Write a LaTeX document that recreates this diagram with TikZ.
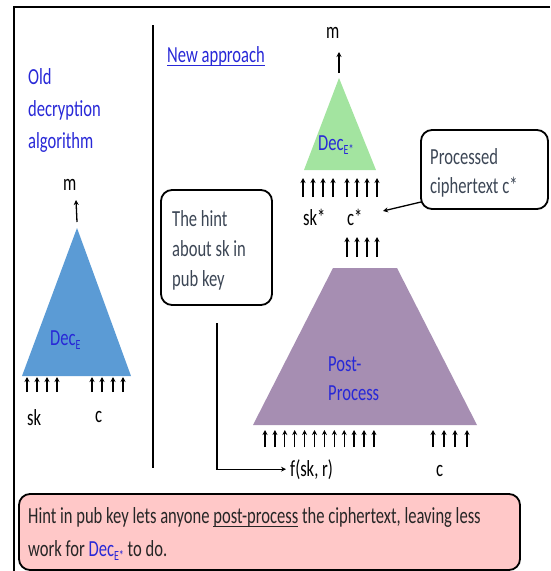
\documentclass[tikz,border=0pt]{standalone}
\usepackage{fontspec}
\setmainfont{Carlito}[FakeStretch=0.72]
\usetikzlibrary{arrows.meta}
\definecolor{txtblue}{RGB}{40,40,215}
\definecolor{decblue}{RGB}{91,155,213}
\definecolor{decgreen}{RGB}{163,228,160}
\definecolor{ppurple}{RGB}{166,142,178}
\definecolor{hintpink}{RGB}{255,200,200}
\definecolor{boxtxt}{RGB}{60,70,85}
\newcommand\myul[1]{\setbox0\hbox{#1}\rlap{\rule[-3.5pt]{\wd0}{1pt}}\box0\relax}
\newcommand\mysub[1]{\raisebox{-4pt}{\fontsize{14}{14}\selectfont #1}}
\tikzset{
  lbl/.style={anchor=base west, inner sep=0pt, font=\fontsize{23}{27}\selectfont},
  bluelbl/.style={lbl, text=txtblue},
  graylbl/.style={lbl, text=boxtxt},
  arr/.style={line width=1.3pt, -{Stealth[length=5pt,width=5pt]}},
  rbox/.style={draw=black, line width=1.8pt, rounded corners=11pt},
  frame/.style={line width=2.5pt},
}
\begin{document}
\begin{tikzpicture}[x=1pt,y=-1pt]
\useasboundingbox (0,0) rectangle (550,571);
% frame and divider
\draw[frame] (550,7) -- (14,7) -- (14,571);
\draw[line width=1.5pt] (153,25) -- (153,468);

% left part
\node[bluelbl] (old1) at (28,84) {Old};
\node[bluelbl] (old2) at (28,116) {decryption};
\node[bluelbl] (old3) at (28,148) {algorithm};
\coordinate (apexL) at (77,228);
\fill[decblue] (apexL) -- (131,376) -- (22,376) -- cycle;
\node[bluelbl] (decE) at (50,345) {Dec\mysub{E}};
\node[lbl] (mL) at (63,190) {m};
\draw[arr] ([yshift=6pt]apexL) -- (76,200);
\foreach \x in {27,37,47,57,92,102,113,123} \draw[arr] (\x,392) -- (\x,377);
\node[lbl] (skL) at (27,425) {sk};
\node[lbl] (cL) at (95,422) {c};

% right part
\node[bluelbl] (newap) at (167,62) {\myul{New approach}};
\coordinate (apexG) at (339,78);
\fill[decgreen] (apexG) -- (376,170) -- (304,170) -- cycle;
\node[bluelbl] (decEs) at (318,150) {Dec\mysub{E*}};
\node[lbl] (mR) at (326,38) {m};
\draw[arr] ([yshift=5pt]apexG) -- (339,52);
\foreach \x in {303,313,323,333,347,357,367,377} \draw[arr] (\x,197) -- (\x,178);
\node[lbl] (skstar) at (303,225) {sk*};
\node[lbl] (cstar) at (347,225) {c*};
\coordinate (cstarTip) at (383,211);

\draw[rbox] (421,130) rectangle (548,209);
\coordinate (proc) at (421,202);
\node[graylbl] (proc1) at (430,164) {Processed};
\node[graylbl] (proc2) at (430,193) {ciphertext c*};
\draw[arr] (proc) -- (cstarTip);

\foreach \x in {347,357,367,377} \draw[arr] (\x,257) -- (\x,237);
\fill[ppurple] (333,268) -- (397,268) -- (477,425) -- (253,425) -- cycle;
\node[bluelbl] (post1) at (328,371) {Post-};
\node[bluelbl] (post2) at (328,400) {Process};
\foreach \i in {0,...,11} \draw[arr] (265+\i*9.9,447) -- (265+\i*9.9,430);
\foreach \x in {433,444,455,467} \draw[arr] (\x,447) -- (\x,430);
\node[lbl] (fsk) at (290,476) {f(sk, r)};
\node[lbl] (cR) at (436,476) {c};

\draw[rbox] (161,190) rectangle (272,305);
\node[graylbl] (hint1) at (172,226) {The hint};
\node[graylbl] (hint2) at (172,256) {about sk in};
\node[graylbl] (hint3) at (172,286) {pub key};
\coordinate (hintTop) at (217,323);
\draw[line width=1.3pt, -{Stealth[length=5pt,width=5pt]}, shorten >=4pt] (hintTop) |- (fsk.west);

% bottom box
\draw[rbox, fill=hintpink] (19,494) rectangle (520,570);
\node[lbl, text=black!85] (bot1) at (28,523) {Hint in pub key lets anyone \myul{post-process} the ciphertext, leaving less};
\node[lbl, text=black!85] (bot2) at (28,556) {work for {\color{txtblue}Dec\mysub{E*}} to do.};
\end{tikzpicture}
\end{document}
